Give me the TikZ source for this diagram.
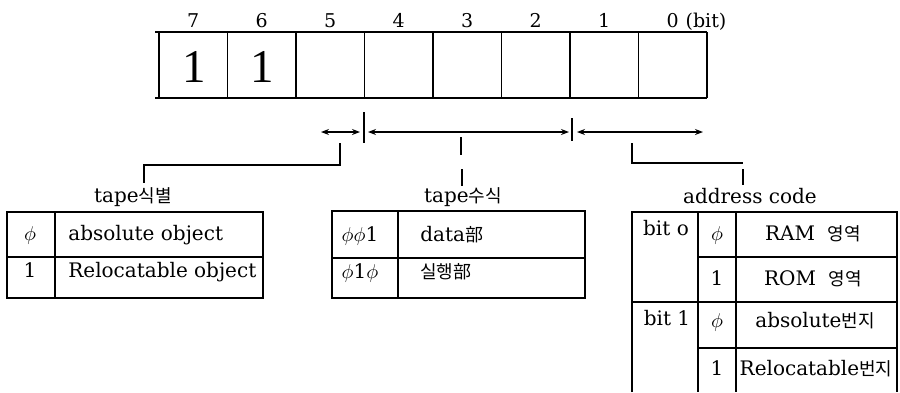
\documentclass[tikz,border=0pt]{standalone}
\usepackage{fontspec}
\setmainfont{DejaVu Serif}
\newfontfamily\krfont{Noto Sans CJK KR}
\newfontfamily\timesfont{Liberation Serif}
\usetikzlibrary{arrows.meta}
\newcommand\kor[1]{{\krfont\fontsize{9}{10}\selectfont #1}}
\begin{document}
\begin{tikzpicture}[x=0.5pt,y=-0.5pt,
  thinline/.style={line width=0.55pt},
  regline/.style={line width=0.7pt},
  dblarrow/.style={line width=0.6pt,{Stealth[length=4pt,width=3pt]}-{Stealth[length=4pt,width=3pt]}},
  txt/.style={inner sep=0pt,anchor=base,font=\fontsize{10}{12}\selectfont},
  txtw/.style={txt,anchor=base west},
  bitlbl/.style={inner sep=0pt,anchor=base,font=\fontsize{9.5}{11}\selectfont},
  bigone/.style={inner sep=0pt,anchor=base,font=\timesfont\fontsize{23.5}{26}\selectfont}]
\useasboundingbox (0,0) rectangle (900,392);

% register
\draw[regline] (155,32) -- (707,32);
\draw[regline] (155,98) -- (707,98);
\foreach \i in {0,...,8} \draw[regline] ({159+68.5*\i},32) -- ({159+68.5*\i},98);
\foreach \b in {0,...,7}
  \node[bitlbl] (lbl\b) at ({159+68.5*(7-\b)+34.25},27) {\b};
\node[bitlbl,anchor=base west] (bitword) at ([xshift=3pt]lbl0.base east) {(bit)};
\node[bigone] (one7) at (194,82) {1};
\node[bigone] (one6) at (262,82) {1};

% ticks below register
\coordinate (t1a) at (364,112); \coordinate (t1b) at (364,143);
\coordinate (t2a) at (572,118); \coordinate (t2b) at (572,141);
\draw[thinline] (t1a) -- (t1b);
\draw[thinline] (t2a) -- (t2b);

% range arrows
\coordinate (a1l) at (321,132); \coordinate (a1r) at (360,132);
\coordinate (a2l) at (368,132); \coordinate (a2r) at (569,132);
\coordinate (a3l) at (577,132); \coordinate (a3r) at (703,132);
\draw[dblarrow] (a1l) -- (a1r);
\draw[dblarrow] (a2l) -- (a2r);
\draw[dblarrow] (a3l) -- (a3r);

% brackets to labels
\coordinate (k1a) at (340,143); \coordinate (k1b) at (340,165);
\coordinate (k1c) at (144,165); \coordinate (k1d) at (144,183);
\draw[thinline] (k1a) -- (k1b) -- (k1c) -- (k1d);
\coordinate (k2a) at (461,137); \coordinate (k2b) at (461,155);
\coordinate (k2c) at (462,169); \coordinate (k2d) at (462,186);
\draw[thinline] (k2a) -- (k2b);
\draw[thinline] (k2c) -- (k2d);
\coordinate (k3a) at (632,143); \coordinate (k3b) at (632,163);
\coordinate (k3c) at (743,163); \coordinate (k3d) at (743,169);
\coordinate (k3e) at (743,185);
\draw[thinline] (k3a) -- (k3b) -- (k3c);
\draw[thinline] (k3d) -- (k3e);

% labels
\node[txt] (lab1) at (133,202) {tape\kor{식별}};
\node[txt] (lab2) at (463,202) {tape\kor{수식}};
\node[txt] (lab3) at (750,203) {address\ code};

% table 1
\draw[thinline] (7,212) rectangle (263,298);
\draw[thinline] (7,257) -- (263,257);
\draw[thinline] (55,212) -- (55,298);
\node[txt] (t1r1a) at (30,240) {$\phi$};
\node[txtw] (t1r1b) at (68,240) {absolute object};
\node[txt] (t1r2a) at (30,277) {1};
\node[txtw] (t1r2b) at (68,277) {Relocatable object};

% table 2
\draw[thinline] (332,211) rectangle (585,298);
\draw[thinline] (332,258) -- (585,258);
\draw[thinline] (398,211) -- (398,298);
\node[txt] (t2r1a) at (360,241) {$\phi\phi$1};
\node[txtw] (t2r1b) at (420,241) {data\kor{部}};
\node[txt] (t2r2a) at (360,278) {$\phi$1$\phi$};
\node[txtw] (t2r2b) at (420,278) {\kor{실행部}};

% table 3
\draw[thinline] (632,392) -- (632,212) -- (897,212) -- (897,392);
\draw[thinline] (698,212) -- (698,392);
\draw[thinline] (736,212) -- (736,392);
\draw[thinline] (698,257) -- (897,257);
\draw[thinline] (632,302) -- (897,302);
\draw[thinline] (698,348) -- (897,348);
\node[txt] (t3a) at (666,235) {bit o};
\node[txt] (t3b) at (717,240) {$\phi$};
\node[txt] (t3c) at (813,240) {RAM\ \ \kor{영역}};
\node[txt] (t3d) at (717,285) {1};
\node[txt] (t3e) at (813,285) {ROM\ \ \kor{영역}};
\node[txt] (t3f) at (667,325) {bit 1};
\node[txt] (t3g) at (717,327) {$\phi$};
\node[txt] (t3h) at (815,327) {absolute\kor{번지}};
\node[txt] (t3i) at (717,375) {1};
\node[txt] (t3j) at (816,375) {Relocatable\kor{번지}};
\end{tikzpicture}
\end{document}
